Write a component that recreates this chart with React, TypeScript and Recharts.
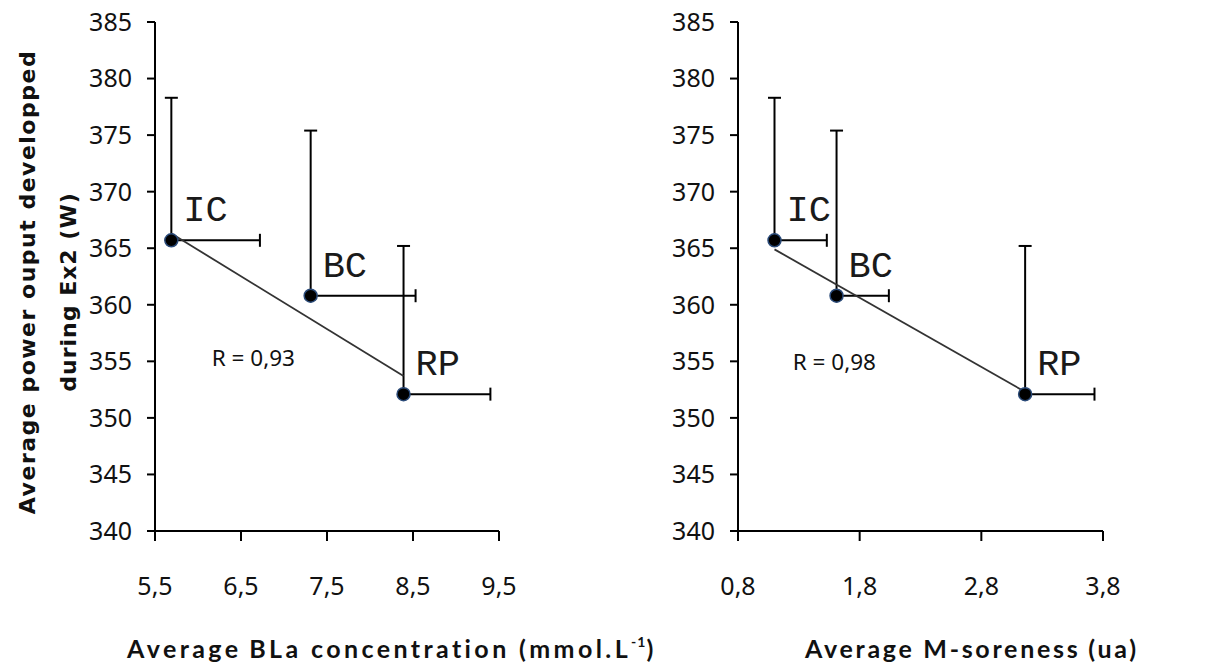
import React from 'react';
import {
  ScatterChart,
  Scatter,
  XAxis,
  YAxis,
  ErrorBar,
  ReferenceDot,
  Customized,
} from 'recharts';

// ---- data ----
const groups = ['IC', 'BC', 'RP'];
const power = [365.7, 360.8, 352.1];
const powerSD = [12.6, 14.6, 13.1];

const bla = [5.69, 7.31, 8.39];
const blaSD = [1.03, 1.22, 1.01];

const soreness = [1.1, 1.61, 3.16];
const sorenessSD = [0.43, 0.43, 0.57];

const blaTrendX = [5.69, 8.39];
const blaTrendY = [366.3, 353.7];
const sorenessTrendX = [1.1, 3.16];
const sorenessTrendY = [364.9, 352.3];

const yTicks = [340, 345, 350, 355, 360, 365, 370, 375, 380, 385];
const blaTicks = [5.5, 6.5, 7.5, 8.5, 9.5];
const sorenessTicks = [0.8, 1.8, 2.8, 3.8];

const blaR = { x: 6.16, y: 354.6, text: 'R = 0,93' };
const sorenessR = { x: 1.25, y: 354.2, text: 'R = 0,98' };

// ---- styles ----
const TICK_FONT = "'Noto Sans', 'DejaVu Sans', sans-serif";
const LABEL_FONT = "'Courier New', 'Liberation Mono', monospace";
const TITLE_FONT = "Lato, 'Noto Sans', sans-serif";
const INK = '#111';

const fmtX = (v: number) => v.toFixed(1).replace('.', ',');

const PointShape = (props: any) => {
  const { cx, cy, payload } = props;
  if (cx == null || cy == null) return <g />;
  return (
    <g>
      <circle cx={cx} cy={cy} r={6.5} fill="#000" stroke="#2a4a78" strokeWidth={1.5} />
      <text
        x={cx + 12}
        y={cy - 19}
        fontFamily={LABEL_FONT}
        fontSize={37}
        fill="#1a1a1a"
      >
        {payload.label}
      </text>
    </g>
  );
};

const NoShape = () => <g />;

const RText = (text: string) => (props: any) => {
  const { cx, cy } = props;
  return (
    <text x={cx} y={cy} fontFamily={TICK_FONT} fontSize={22.5} fill={INK}>
      {text}
    </text>
  );
};

type PanelProps = {
  left: number;
  width: number;
  yAxisWidth: number;
  marginRight: number;
  xs: number[];
  xsd: number[];
  xDomain: [number, number];
  xTicks: number[];
  trendX: number[];
  trendY: number[];
  r: { x: number; y: number; text: string };
  title: React.ReactNode;
};

const Panel = (p: PanelProps) => {
  const data = groups.map((g, i) => ({
    label: g,
    x: p.xs[i],
    y: power[i],
    ey: [0, powerSD[i]],
    ex: [0, p.xsd[i]],
  }));
  const trend = p.trendX.map((x, i) => ({ x, y: p.trendY[i] }));
  return (
    <div style={{ position: 'absolute', left: p.left, top: 0 }}>
      <ScatterChart
        width={p.width}
        height={667}
        margin={{ top: 22, right: p.marginRight, bottom: 36, left: 0 }}
      >
        <XAxis
          type="number"
          dataKey="x"
          domain={p.xDomain}
          ticks={p.xTicks}
          tickFormatter={fmtX}
          interval={0}
          height={100}
          axisLine={{ stroke: '#000', strokeWidth: 2 }}
          tickLine={{ stroke: '#000', strokeWidth: 2 }}
          tickSize={10}
          tickMargin={36}
          tick={{ fontFamily: TICK_FONT, fontSize: 25, fill: INK }}
          allowDataOverflow
        />
        <YAxis
          type="number"
          dataKey="y"
          domain={[340, 385]}
          ticks={yTicks}
          interval={0}
          width={p.yAxisWidth}
          axisLine={{ stroke: '#000', strokeWidth: 2 }}
          tickLine={{ stroke: '#000', strokeWidth: 2 }}
          tickSize={8}
          tickMargin={15}
          tick={{ fontFamily: TICK_FONT, fontSize: 25, fill: INK }}
          allowDataOverflow
        />
        <Scatter
          data={trend}
          line={{ stroke: '#333', strokeWidth: 1.8 }}
          shape={NoShape}
          isAnimationActive={false}
          legendType="none"
        />
        <Scatter data={data} shape={PointShape} isAnimationActive={false}>
          <ErrorBar dataKey="ey" direction="y" width={6.5} stroke="#000" strokeWidth={2} />
          <ErrorBar dataKey="ex" direction="x" width={6.5} stroke="#000" strokeWidth={2} />
        </Scatter>
        <ReferenceDot x={p.r.x} y={p.r.y} r={0} shape={RText(p.r.text)} />
        <Customized component={() => <g>{p.title}</g>} />
      </ScatterChart>
    </div>
  );
};

const leftTitle = (
  <g>
    <text
      transform="translate(35, 282) rotate(-90)"
      textAnchor="middle"
      fontFamily="'DejaVu Sans', sans-serif"
      fontWeight="bold"
      fontSize={22}
      letterSpacing={1.5}
      fill={INK}
    >
      Average power ouput developped
    </text>
    <text
      transform="translate(76, 292) rotate(-90)"
      textAnchor="middle"
      fontFamily="'DejaVu Sans', sans-serif"
      fontWeight="bold"
      fontSize={22}
      letterSpacing={1}
      fill={INK}
    >
      during Ex2 (W)
    </text>
    <text
      x={127}
      y={658}
      fontFamily={TITLE_FONT}
      fontWeight="bold"
      fontSize={25}
      letterSpacing={3.4}
      fill={INK}
    >
      Average
      <tspan dx={8}>BLa concentration (mmol.L</tspan>
      <tspan dy={-11} fontSize={14} letterSpacing={1}>
        -1
      </tspan>
      <tspan dy={11}>)</tspan>
    </text>
  </g>
);

const rightTitle = (
  <text
    x={245}
    y={658}
    fontFamily={TITLE_FONT}
    fontWeight="bold"
    fontSize={25}
    letterSpacing={2.7}
    fill={INK}
  >
    Average M-soreness
    <tspan dx={8}>(ua)</tspan>
  </text>
);

export default function App() {
  return (
    <div style={{ position: 'absolute', left: 0, top: 0, width: 1208, height: 667, background: '#fff' }}>
      <Panel
        left={0}
        width={700}
        yAxisWidth={155}
        marginRight={201}
        xs={bla}
        xsd={blaSD}
        xDomain={[5.5, 9.5]}
        xTicks={blaTicks}
        trendX={blaTrendX}
        trendY={blaTrendY}
        r={blaR}
        title={leftTitle}
      />
      <Panel
        left={560}
        width={648}
        yAxisWidth={178}
        marginRight={105}
        xs={soreness}
        xsd={sorenessSD}
        xDomain={[0.8, 3.8]}
        xTicks={sorenessTicks}
        trendX={sorenessTrendX}
        trendY={sorenessTrendY}
        r={sorenessR}
        title={rightTitle}
      />
    </div>
  );
}
